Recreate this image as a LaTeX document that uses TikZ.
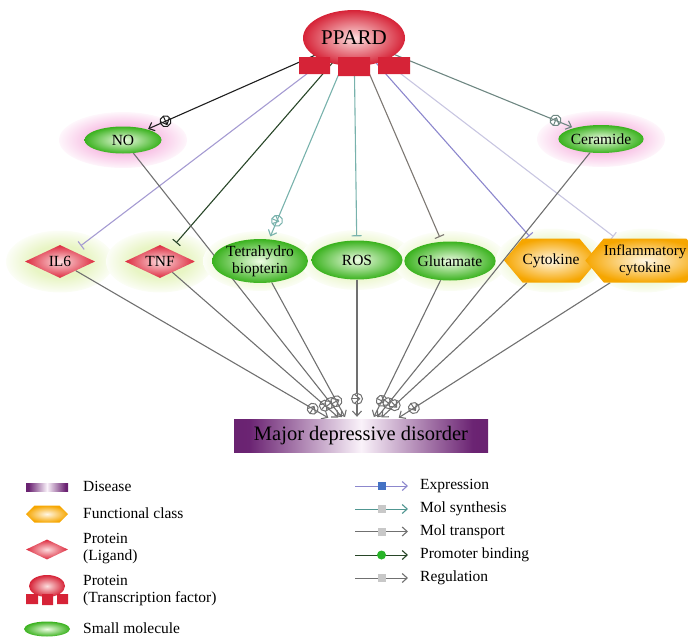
\documentclass[tikz,border=0pt]{standalone}
\usepackage{fontspec}
\setmainfont{Liberation Serif}
\usetikzlibrary{shapes.geometric,shapes.symbols,arrows.meta,decorations.markings,calc}
\definecolor{pred}{RGB}{214,35,55}
\definecolor{predin}{RGB}{252,222,222}
\definecolor{ligout}{RGB}{221,42,62}
\definecolor{ligin}{RGB}{252,220,222}
\definecolor{smolout}{RGB}{58,178,30}
\definecolor{smolin}{RGB}{238,252,228}
\definecolor{fclout}{RGB}{246,166,0}
\definecolor{fclin}{RGB}{255,247,230}
\definecolor{cBlack}{RGB}{30,30,30}
\definecolor{cLav}{RGB}{165,155,210}
\definecolor{cDkGreen}{RGB}{40,70,40}
\definecolor{cTeal}{RGB}{120,178,172}
\definecolor{cPurp}{RGB}{140,135,205}
\definecolor{cLtLav}{RGB}{200,198,225}
\definecolor{cGrTeal}{RGB}{110,135,130}
\definecolor{cGlut}{RGB}{125,120,115}
\definecolor{cEdge}{RGB}{112,112,112}
\definecolor{legblue}{RGB}{68,114,196}
\definecolor{leggray}{RGB}{200,200,200}
\definecolor{leggreen}{RGB}{40,180,40}
\definecolor{legteal}{RGB}{80,150,145}
\pgfdeclareradialshading{glowpink}{\pgfpoint{0bp}{0bp}}{rgb(0bp)=(0.96,0.68,0.86); rgb(12bp)=(0.97,0.74,0.89); rgb(27bp)=(1,1,1); rgb(50bp)=(1,1,1)}
\pgfdeclareradialshading{glowgreen}{\pgfpoint{0bp}{0bp}}{rgb(0bp)=(0.90,0.96,0.74); rgb(13bp)=(0.91,0.96,0.77); rgb(27bp)=(1,1,1); rgb(50bp)=(1,1,1)}
\pgfdeclarehorizontalshading{mddshade}{100bp}{rgb(0bp)=(0.36,0.10,0.39); rgb(28bp)=(0.42,0.14,0.45); rgb(50bp)=(0.98,0.95,0.98); rgb(72bp)=(0.42,0.14,0.45); rgb(100bp)=(0.36,0.10,0.39)}
\pgfdeclarelayer{glowlayer}
\pgfdeclarelayer{edgelayer}
\pgfsetlayers{glowlayer,edgelayer,main}
\tikzset{
  txt/.style={font=\fontsize{15.5}{17}\selectfont, text=black, inner sep=0pt, align=center},
  smol/.style={txt, ellipse, inner color=smolin, outer color=smolout},
  lig/.style={txt, diamond, aspect=2.2, inner color=ligin, outer color=ligout},
  fcls/.style={txt, signal, signal to=west and east, signal pointer angle=100, inner color=fclin, outer color=fclout},
  tfac/.style={ellipse, inner color=predin, outer color=pred, inner sep=0pt},
  disease/.style={rectangle, shade, shading=mddshade, inner sep=0pt},
  edgeln/.style={line width=1.1pt},
  tbar/.style={edgeln, -{Bar[width=10pt,line width=1.1pt]}},
  arr/.style={edgeln, -{Straight Barb[length=5pt,width=9pt,line width=1.1pt]}},
  plusmark/.style={postaction={decorate, decoration={markings, mark=at position -20pt with {\draw[#1, line width=1pt, fill=white] (0,0) circle (5.5pt); \draw[#1, line width=1pt] (-5.5pt,0)--(5.5pt,0) (0,-5.5pt)--(0,5.5pt);}}}},
}
\begin{document}
\begin{tikzpicture}[x=1pt,y=-1pt]
\useasboundingbox (0,0) rectangle (688,637);
% main nodes
\node[tfac, minimum width=102pt, minimum height=56pt, font=\fontsize{21}{21}\selectfont] (ppard) at (354,38) {PPARD};
\fill[pred] (299,57) rectangle (330,74) (338,57) rectangle (370,76) (378,57) rectangle (410,74);
\node[smol, minimum width=77pt, minimum height=27pt] (no) at (123,140) {NO};
\node[smol, minimum width=76pt, minimum height=28pt] (cer) at (601,139) {Ceramide};
\node[lig, minimum width=70pt, minimum height=33pt] (il6) at (60,261.5) {IL6};
\node[lig, minimum width=70pt, minimum height=33pt] (tnf) at (160,261.5) {TNF};
\node[smol, minimum width=89pt, minimum height=39pt] (thb) at (260,261) {Tetrahydro\\biopterin};
\node[smol, minimum width=91pt, minimum height=39pt] (ros) at (357,260) {ROS};
\node[smol, minimum width=91pt, minimum height=39pt] (glu) at (450,261) {Glutamate};
\node[fcls, minimum width=82pt, minimum height=44pt] (cyt) at (551,260.5) {Cytokine};
\node[fcls, minimum width=82pt, minimum height=44pt, font=\fontsize{15}{16.5}\selectfont] (infl) at (645,260.5) {Inflammatory\\cytokine};
\node[disease, minimum width=254pt, minimum height=33pt, font=\fontsize{20.5}{20.5}\selectfont, text=black] (mdd) at (361,435.5) {Major depressive disorder};
% glows
\begin{pgfonlayer}{glowlayer}
\shade[shading=glowpink] (no.center) ellipse [x radius=64pt, y radius=28pt];
\shade[shading=glowpink] (cer.center) ellipse [x radius=64pt, y radius=28pt];
\foreach \n in {il6,tnf} {\shade[shading=glowgreen] (\n.center) ellipse [x radius=54pt, y radius=31pt];}
\foreach \n in {thb,ros,glu} {\shade[shading=glowgreen] (\n.center) ellipse [x radius=57pt, y radius=30pt];}
\foreach \n in {cyt,infl} {\shade[shading=glowgreen] (\n.center) ellipse [x radius=55pt, y radius=32pt];}
\end{pgfonlayer}
% edges
\begin{pgfonlayer}{edgelayer}
\draw[arr, cBlack, plusmark=cBlack, shorten >=1pt] (ppard.center) -- (no);
\draw[tbar, cLav, shorten >=9pt] (ppard.center) -- (il6);
\draw[tbar, cDkGreen, shorten >=9pt] (ppard.center) -- (tnf);
\draw[arr, cTeal, plusmark=cTeal, shorten >=3pt] (ppard.center) -- (thb);
\draw[tbar, cTeal, shorten >=4pt] (ppard.center) -- (ros);
\draw[tbar, cGlut, shorten >=5pt] (ppard.center) -- (glu);
\draw[tbar, cPurp, shorten >=3pt] (ppard.center) -- (cyt);
\draw[tbar, cLtLav, shorten >=3pt] (ppard.center) -- (infl);
\draw[arr, cGrTeal, plusmark=cGrTeal, shorten >=2pt] (ppard.center) -- (cer);
\draw[arr, cEdge, plusmark=cEdge, shorten >=2pt] (il6) -- ([xshift=-31pt]mdd.north);
\draw[arr, cEdge, plusmark=cEdge, shorten >=2pt] (tnf) -- ([xshift=-21pt]mdd.north);
\draw[arr, cEdge, plusmark=cEdge, shorten >=2pt] (no) -- ([xshift=-18pt]mdd.north);
\draw[arr, cEdge, plusmark=cEdge, shorten >=2pt] (thb) -- ([xshift=-15pt]mdd.north);
\draw[arr, cEdge, plusmark=cEdge, shorten >=2pt] (ros) -- ([xshift=-4pt]mdd.north);
\draw[arr, cEdge, plusmark=cEdge, shorten >=2pt] (glu) -- ([xshift=12pt]mdd.north);
\draw[arr, cEdge, plusmark=cEdge, shorten >=2pt] (cer) -- ([xshift=15pt]mdd.north);
\draw[arr, cEdge, plusmark=cEdge, shorten >=2pt] (cyt) -- ([xshift=19pt]mdd.north);
\draw[arr, cEdge, plusmark=cEdge, shorten >=2pt] (infl) -- ([xshift=36pt]mdd.north);
\end{pgfonlayer}
% legend left
\node[disease, minimum width=42pt, minimum height=8pt] (ld1) at (47,487) {};
\node[fcls, minimum width=42pt, minimum height=17pt, signal pointer angle=90] (ld2) at (47,514) {};
\node[lig, minimum width=42pt, minimum height=20pt] (ld3) at (47,549.5) {};
\node[tfac, minimum width=36pt, minimum height=22pt] (ld4) at (47,586) {};
\fill[pred] (26,594) rectangle (38,604) (42,594) rectangle (53,605) (57,594) rectangle (68,604);
\node[smol, minimum width=46pt, minimum height=15pt] (ld5) at (47,629) {};
\node[txt, anchor=west] (lt1) at (83,486) {Disease};
\node[txt, anchor=west] (lt2) at (83,513) {Functional class};
\node[txt, anchor=west, align=left] (lt3) at (83,548.5) {Protein\\(Ligand)};
\node[txt, anchor=west, align=left] (lt4) at (83,591) {Protein\\(Transcription factor)};
\node[txt, anchor=west] (lt5) at (83,628) {Small molecule};
% legend right
\foreach \i/\y/\c in {1/486/cPurp, 2/509/legteal, 3/531.5/cEdge, 4/555/cDkGreen, 5/578/cEdge} {
  \coordinate (la\i) at (355,\y);
  \coordinate (lb\i) at (408,\y);
  \draw[arr, \c, line width=1pt] (la\i) -- (lb\i);
}
\node[fill=legblue, minimum size=8pt, inner sep=0pt] (lm1) at ($(la1)!0.5!(lb1)$) {};
\node[fill=leggray, minimum size=8pt, inner sep=0pt] (lm2) at ($(la2)!0.5!(lb2)$) {};
\node[fill=leggray, minimum size=8pt, inner sep=0pt] (lm3) at ($(la3)!0.5!(lb3)$) {};
\node[fill=leggreen, circle, minimum size=9pt, inner sep=0pt] (lm4) at ($(la4)!0.5!(lb4)$) {};
\node[fill=leggray, minimum size=8pt, inner sep=0pt] (lm5) at ($(la5)!0.5!(lb5)$) {};
\node[txt, anchor=west] (lr1) at (420,486) {Expression};
\node[txt, anchor=west] (lr2) at (420,509) {Mol synthesis};
\node[txt, anchor=west] (lr3) at (420,531.5) {Mol transport};
\node[txt, anchor=west] (lr4) at (420,555) {Promoter binding};
\node[txt, anchor=west] (lr5) at (420,578) {Regulation};
\end{tikzpicture}
\end{document}
